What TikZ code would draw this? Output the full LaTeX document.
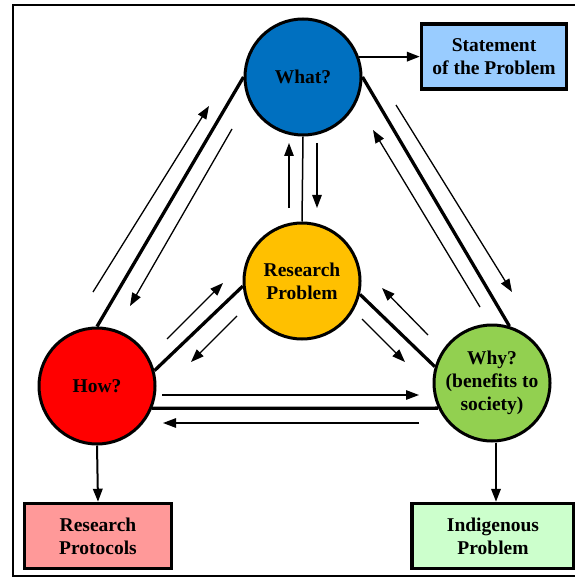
\documentclass[tikz,border=0pt]{standalone}
\usepackage{fontspec}
\setmainfont{Liberation Serif}
\usetikzlibrary{arrows.meta,positioning}

\definecolor{whatBlue}{HTML}{0070C0}
\definecolor{probGold}{HTML}{FFC000}
\definecolor{howRed}{HTML}{FF0000}
\definecolor{whyGreen}{HTML}{92D050}
\definecolor{stmtBlue}{HTML}{99CCFF}
\definecolor{protPink}{HTML}{FF9999}
\definecolor{indGreen}{HTML}{CCFFCC}

\tikzset{
  question/.style={draw, circle, line width=3pt, minimum size=116pt, inner sep=0pt},
  outcome/.style={draw, rectangle, line width=3.5pt, minimum height=65pt, inner sep=0pt},
  link/.style={line width=3.3pt},
  flow/.style={->, line width=1.3pt},
  lead/.style={->, line width=2pt}
}

\begin{document}
\begin{tikzpicture}[x=1pt,y=-1pt,
    >={Triangle[length=13pt,width=9.5pt]},
    every node/.style={font=\fontsize{19.5}{23}\selectfont\bfseries, align=center}]
  \useasboundingbox (0,0) rectangle (574,577);
  \draw[line width=1.3pt] (13,5) rectangle (600,576);

  \node (What)
        [question, fill=whatBlue]
        at (303,77)
        {What?};
  \node (Problem)
        [question, fill=probGold]
        at (302,281)
        {Research\\Problem};
  \node (How)
        [question, fill=howRed]
        at (97,386)
        {How?};
  \node (Why)
        [question, fill=whyGreen]
        at (492,383)
        {Why?\\(benefits to\\society)};
  \node (Statement)
        [outcome, fill=stmtBlue, minimum width=145pt]
        at (494,56.5)
        {Statement\\of the Problem};
  \node (Protocols)
        [outcome, fill=protPink, minimum width=147pt]
        at (98,536)
        {Research\\Protocols};
  \node (Indigenous)
        [outcome, fill=indGreen, minimum width=162pt]
        at (493,536)
        {Indigenous\\Problem};

  % frame of the triangle
  \draw[link] (What.west) -- (How.north);
  \draw[link] (What.east) -- (Why.73);
  \draw[link] (How.338) -- (Why.205);
  \draw[link] (Problem.185) -- (How.15);
  \draw[link] (Problem.347) -- (Why.164);
  \draw[line width=1.5pt] (What.south) -- (Problem.north);

  % flows along the sides
  \coordinate (howToWhatA) at (93,292);
  \coordinate (howToWhatB) at (209,106);
  \coordinate (whatToHowA) at (232,129);
  \coordinate (whatToHowB) at (130,306);
  \coordinate (whatToWhyA) at (396,105);
  \coordinate (whatToWhyB) at (512,292);
  \coordinate (whyToWhatA) at (480,307);
  \coordinate (whyToWhatB) at (373,130);
  \coordinate (probToWhatA) at (289,208);
  \coordinate (probToWhatB) at (289,143);
  \coordinate (whatToProbA) at (317,143);
  \coordinate (whatToProbB) at (317,208);
  \coordinate (howToProbA) at (167,339);
  \coordinate (howToProbB) at (223,283);
  \coordinate (probToHowA) at (237,316);
  \coordinate (probToHowB) at (191,362);
  \coordinate (whyToProbA) at (428,335);
  \coordinate (whyToProbB) at (382,288);
  \coordinate (probToWhyA) at (362,319);
  \coordinate (probToWhyB) at (405,362);
  \coordinate (howToWhyA) at (162,395);
  \coordinate (howToWhyB) at (419,395);
  \coordinate (whyToHowA) at (419,423);
  \coordinate (whyToHowB) at (163,423);

  \draw[flow] (howToWhatA) -- (howToWhatB);
  \draw[flow] (whatToHowA) -- (whatToHowB);
  \draw[flow] (whatToWhyA) -- (whatToWhyB);
  \draw[flow] (whyToWhatA) -- (whyToWhatB);
  \draw[flow] (probToWhatA) -- (probToWhatB);
  \draw[flow] (whatToProbA) -- (whatToProbB);
  \draw[flow] (howToProbA) -- (howToProbB);
  \draw[flow] (probToHowA) -- (probToHowB);
  \draw[flow] (whyToProbA) -- (whyToProbB);
  \draw[flow] (probToWhyA) -- (probToWhyB);
  \draw[flow] (howToWhyA) -- (howToWhyB);
  \draw[flow] (whyToHowA) -- (whyToHowB);

  % outcomes
  \draw[lead] (What.20) -- (What.20 -| Statement.west);
  \draw[lead] (How.south) -- (Protocols.north);
  \draw[lead] (Why.south -| 496,0) -- (Indigenous.north -| 496,0);
\end{tikzpicture}
\end{document}
